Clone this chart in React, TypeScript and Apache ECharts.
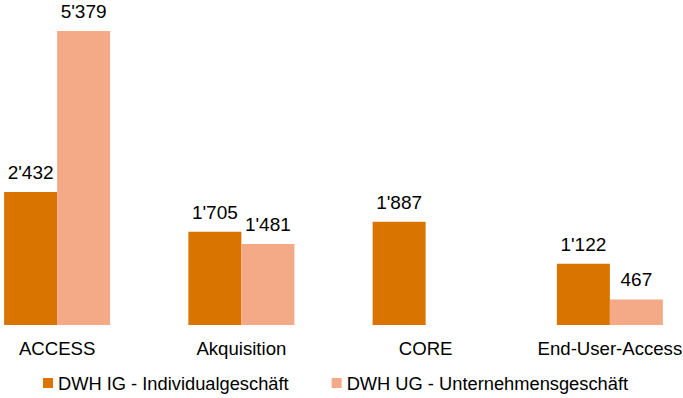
import React, { useEffect, useRef } from "react";
import * as echarts from "echarts";

const categories = ["ACCESS", "Akquisition", "CORE", "End-User-Access"];
const seriesNames = ["DWH IG - Individualgeschäft", "DWH UG - Unternehmensgeschäft"];
const igValues: (number | null)[] = [2432, 1705, 1887, 1122];
const ugValues: (number | null)[] = [5379, 1481, null, 467];
const colors = ["#D97400", "#F5AA87"];

const fmt = (v: number) => String(v).replace(/\B(?=(\d{3})+(?!\d))/g, "'");

const SHIFT = 35;
const INNER_W = 737;

export default function App() {
  const ref = useRef<HTMLDivElement>(null);
  useEffect(() => {
    if (!ref.current) return;
    const chart = echarts.init(ref.current, undefined, { renderer: "svg" });
    const font = "'Liberation Sans', Arial, sans-serif";
    const label = {
      show: true,
      position: "top" as const,
      distance: 10,
      color: "#000",
      fontSize: 19,
      fontFamily: font,
      formatter: (p: any) => (p.value == null ? "" : fmt(p.value)),
    };
    chart.setOption({
      animation: false,
      backgroundColor: "#fff",
      grid: { left: 0, right: 0, top: 31, bottom: 73, containLabel: false },
      legend: {
        bottom: 1,
        left: 73 + SHIFT - 35,
        itemWidth: 10,
        itemHeight: 10,
        itemGap: 43,
        icon: "rect",
        textStyle: { color: "#000", fontSize: 18.3, fontFamily: font },
        data: seriesNames,
      },
      xAxis: {
        type: "category",
        data: categories,
        axisLine: { show: false },
        axisTick: { show: false },
        axisLabel: { color: "#000", fontSize: 18.6, fontFamily: font, margin: 14, interval: 0 },
      },
      yAxis: {
        type: "value",
        min: 0,
        max: 5379,
        show: false,
        splitLine: { show: false },
      },
      series: [
        {
          name: seriesNames[0],
          type: "bar",
          data: igValues,
          barWidth: 53,
          barGap: "0%",
          itemStyle: { color: colors[0] },
          label,
        },
        {
          name: seriesNames[1],
          type: "bar",
          data: ugValues,
          barWidth: 53,
          barGap: "0%",
          itemStyle: { color: colors[1] },
          label,
        },
      ],
    });
    return () => chart.dispose();
  }, []);
  return (
    <div style={{ width: 683, height: 398, overflow: "hidden", position: "fixed", left: 0, top: 0, background: "#fff" }}>
      <div ref={ref} style={{ width: INNER_W, height: 398, position: "absolute", left: -SHIFT, top: 0 }} />
    </div>
  );
}
